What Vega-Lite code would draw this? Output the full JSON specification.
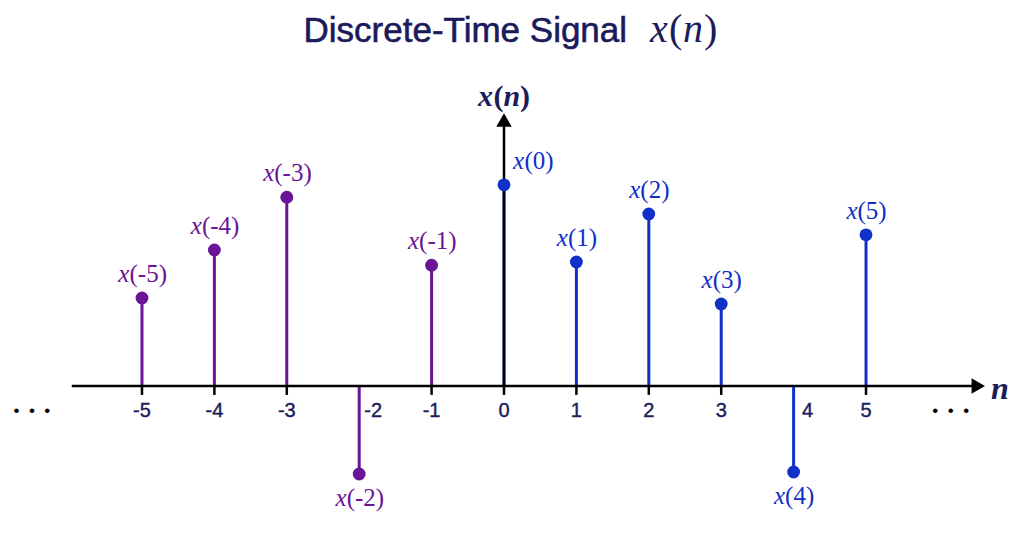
{
  "$schema": "https://vega.github.io/schema/vega-lite/v6.json",
  "width": 1024,
  "height": 554,
  "autosize": {"type": "fit", "contains": "padding"},
  "padding": 0,
  "background": "white",
  "config": {"view": {"stroke": null}},
  "data": {
    "values": [
      {"n": -5, "v": 2.2, "arg": "(-5)"},
      {"n": -4, "v": 3.4, "arg": "(-4)"},
      {"n": -3, "v": 4.72, "arg": "(-3)"},
      {"n": -2, "v": -2.2, "arg": "(-2)"},
      {"n": -1, "v": 3.02, "arg": "(-1)"},
      {"n": 0, "v": 5.03, "arg": "(0)"},
      {"n": 1, "v": 3.1, "arg": "(1)"},
      {"n": 2, "v": 4.3, "arg": "(2)"},
      {"n": 3, "v": 2.05, "arg": "(3)"},
      {"n": 4, "v": -2.15, "arg": "(4)"},
      {"n": 5, "v": 3.78, "arg": "(5)"}
    ]
  },
  "layer": [
    {
      "mark": {"type": "rule", "strokeWidth": 3},
      "encoding": {
        "x": {"field": "n", "type": "quantitative", "scale": {"domain": [-6.961, 7.182], "nice": false, "zero": false}, "axis": null},
        "y": {"field": "v", "type": "quantitative", "scale": {"domain": [-4.2, 9.65], "nice": false, "zero": false}, "axis": null},
        "y2": {"datum": 0},
        "color": {"condition": {"test": "datum.n < 0", "value": "#6a1497"}, "value": "#1030c8"}
      }
    },
    {
      "data": {"values": [{}]},
      "mark": {"type": "rule", "color": "black", "strokeWidth": 2.5},
      "encoding": {
        "x": {"datum": -5.97, "type": "quantitative"},
        "x2": {"datum": 6.5},
        "y": {"datum": 0, "type": "quantitative"}
      }
    },
    {
      "data": {"values": [{}]},
      "mark": {"type": "rule", "color": "black", "strokeWidth": 2.5},
      "encoding": {
        "x": {"datum": 0, "type": "quantitative"},
        "y": {"datum": 6.5, "type": "quantitative"},
        "y2": {"datum": 0}
      }
    },
    {
      "data": {"values": [{}]},
      "mark": {"type": "point", "shape": "triangle-right", "filled": true, "color": "black", "opacity": 1, "size": 240},
      "encoding": {
        "x": {"datum": 6.55, "type": "quantitative"},
        "y": {"datum": 0, "type": "quantitative"}
      }
    },
    {
      "data": {"values": [{}]},
      "mark": {"type": "point", "shape": "triangle-up", "filled": true, "color": "black", "opacity": 1, "size": 240},
      "encoding": {
        "x": {"datum": 0, "type": "quantitative"},
        "y": {"datum": 6.65, "type": "quantitative"}
      }
    },
    {
      "transform": [{"filter": "datum.v > 0"}],
      "mark": {"type": "tick", "orient": "vertical", "color": "black", "size": 9, "thickness": 2.5, "opacity": 1},
      "encoding": {
        "x": {"field": "n", "type": "quantitative"},
        "y": {"datum": -0.11, "type": "quantitative"}
      }
    },
    {
      "mark": {"type": "point", "filled": true, "opacity": 1, "size": 165},
      "encoding": {
        "x": {"field": "n", "type": "quantitative"},
        "y": {"field": "v", "type": "quantitative"},
        "color": {"condition": {"test": "datum.n < 0", "value": "#6a1497"}, "value": "#1030c8"}
      }
    },
    {
      "transform": [{"filter": "datum.n < 0 && datum.v > 0"}],
      "mark": {"type": "text", "font": "Liberation Serif", "fontStyle": "italic", "fontSize": 25, "baseline": "alphabetic", "align": "right", "dx": -12.5, "dy": -16, "color": "#6a1497", "text": "x"},
      "encoding": {
        "x": {"field": "n", "type": "quantitative"},
        "y": {"field": "v", "type": "quantitative"}
      }
    },
    {
      "transform": [{"filter": "datum.n < 0 && datum.v > 0"}],
      "mark": {"type": "text", "font": "Liberation Serif", "fontSize": 25, "baseline": "alphabetic", "align": "left", "dx": -12.5, "dy": -16, "color": "#6a1497"},
      "encoding": {
        "x": {"field": "n", "type": "quantitative"},
        "y": {"field": "v", "type": "quantitative"},
        "text": {"field": "arg", "type": "nominal"}
      }
    },
    {
      "transform": [{"filter": "datum.n > 0 && datum.v > 0"}],
      "mark": {"type": "text", "font": "Liberation Serif", "fontStyle": "italic", "fontSize": 25, "baseline": "alphabetic", "align": "right", "dx": -8.5, "dy": -16, "color": "#1030c8", "text": "x"},
      "encoding": {
        "x": {"field": "n", "type": "quantitative"},
        "y": {"field": "v", "type": "quantitative"}
      }
    },
    {
      "transform": [{"filter": "datum.n > 0 && datum.v > 0"}],
      "mark": {"type": "text", "font": "Liberation Serif", "fontSize": 25, "baseline": "alphabetic", "align": "left", "dx": -8.5, "dy": -16, "color": "#1030c8"},
      "encoding": {
        "x": {"field": "n", "type": "quantitative"},
        "y": {"field": "v", "type": "quantitative"},
        "text": {"field": "arg", "type": "nominal"}
      }
    },
    {
      "transform": [{"filter": "datum.n == 0"}],
      "mark": {"type": "text", "font": "Liberation Serif", "fontStyle": "italic", "fontSize": 25, "baseline": "alphabetic", "align": "left", "dx": 9, "dy": -16, "color": "#1030c8", "text": "x"},
      "encoding": {
        "x": {"field": "n", "type": "quantitative"},
        "y": {"field": "v", "type": "quantitative"}
      }
    },
    {
      "transform": [{"filter": "datum.n == 0"}],
      "mark": {"type": "text", "font": "Liberation Serif", "fontSize": 25, "baseline": "alphabetic", "align": "left", "dx": 20.5, "dy": -16, "color": "#1030c8"},
      "encoding": {
        "x": {"field": "n", "type": "quantitative"},
        "y": {"field": "v", "type": "quantitative"},
        "text": {"field": "arg", "type": "nominal"}
      }
    },
    {
      "transform": [{"filter": "datum.n < 0 && datum.v < 0"}],
      "mark": {"type": "text", "font": "Liberation Serif", "fontStyle": "italic", "fontSize": 25, "baseline": "alphabetic", "align": "right", "dx": -12.5, "dy": 32, "color": "#6a1497", "text": "x"},
      "encoding": {
        "x": {"field": "n", "type": "quantitative"},
        "y": {"field": "v", "type": "quantitative"}
      }
    },
    {
      "transform": [{"filter": "datum.n < 0 && datum.v < 0"}],
      "mark": {"type": "text", "font": "Liberation Serif", "fontSize": 25, "baseline": "alphabetic", "align": "left", "dx": -12.5, "dy": 32, "color": "#6a1497"},
      "encoding": {
        "x": {"field": "n", "type": "quantitative"},
        "y": {"field": "v", "type": "quantitative"},
        "text": {"field": "arg", "type": "nominal"}
      }
    },
    {
      "transform": [{"filter": "datum.n > 0 && datum.v < 0"}],
      "mark": {"type": "text", "font": "Liberation Serif", "fontStyle": "italic", "fontSize": 25, "baseline": "alphabetic", "align": "right", "dx": -8.5, "dy": 32, "color": "#1030c8", "text": "x"},
      "encoding": {
        "x": {"field": "n", "type": "quantitative"},
        "y": {"field": "v", "type": "quantitative"}
      }
    },
    {
      "transform": [{"filter": "datum.n > 0 && datum.v < 0"}],
      "mark": {"type": "text", "font": "Liberation Serif", "fontSize": 25, "baseline": "alphabetic", "align": "left", "dx": -8.5, "dy": 32, "color": "#1030c8"},
      "encoding": {
        "x": {"field": "n", "type": "quantitative"},
        "y": {"field": "v", "type": "quantitative"},
        "text": {"field": "arg", "type": "nominal"}
      }
    },
    {
      "transform": [{"filter": "datum.v > 0"}],
      "mark": {"type": "text", "font": "Liberation Sans", "fontSize": 20, "baseline": "middle", "color": "#1a1d5c", "stroke": "#1a1d5c", "strokeWidth": 0.4},
      "encoding": {
        "x": {"field": "n", "type": "quantitative"},
        "y": {"datum": -0.63, "type": "quantitative"},
        "text": {"field": "n", "type": "nominal"}
      }
    },
    {
      "transform": [{"filter": "datum.v < 0"}],
      "mark": {"type": "text", "font": "Liberation Sans", "fontSize": 20, "baseline": "middle", "dx": 14, "color": "#1a1d5c", "stroke": "#1a1d5c", "strokeWidth": 0.4},
      "encoding": {
        "x": {"field": "n", "type": "quantitative"},
        "y": {"datum": -0.63, "type": "quantitative"},
        "text": {"field": "n", "type": "nominal"}
      }
    },
    {
      "data": {"values": [{}]},
      "mark": {"type": "text", "font": "Liberation Sans", "fontSize": 17, "baseline": "middle", "color": "black", "text": "•\u00a0\u00a0•\u00a0\u00a0•"},
      "encoding": {
        "x": {"datum": -6.52, "type": "quantitative"},
        "y": {"datum": -0.63, "type": "quantitative"}
      }
    },
    {
      "data": {"values": [{}]},
      "mark": {"type": "text", "font": "Liberation Sans", "fontSize": 17, "baseline": "middle", "color": "black", "text": "•\u00a0\u00a0•\u00a0\u00a0•"},
      "encoding": {
        "x": {"datum": 6.17, "type": "quantitative"},
        "y": {"datum": -0.63, "type": "quantitative"}
      }
    },
    {
      "data": {"values": [{}]},
      "mark": {"type": "text", "font": "Liberation Serif", "fontStyle": "italic", "fontWeight": "bold", "fontSize": 32, "baseline": "middle", "align": "center", "color": "#1a1d5c", "text": "n"},
      "encoding": {
        "x": {"datum": 6.85, "type": "quantitative"},
        "y": {"datum": -0.08, "type": "quantitative"}
      }
    },
    {
      "data": {"values": [{}]},
      "mark": {"type": "text", "font": "Liberation Serif", "fontStyle": "italic", "fontWeight": "bold", "fontSize": 30, "baseline": "alphabetic", "align": "left", "dx": -26, "color": "#1a1d5c", "text": "x"},
      "encoding": {
        "x": {"datum": 0, "type": "quantitative"},
        "y": {"datum": 7.0, "type": "quantitative"}
      }
    },
    {
      "data": {"values": [{}]},
      "mark": {"type": "text", "font": "Liberation Serif", "fontWeight": "bold", "fontSize": 30, "baseline": "alphabetic", "align": "left", "dx": -10.5, "color": "#1a1d5c", "text": "("},
      "encoding": {
        "x": {"datum": 0, "type": "quantitative"},
        "y": {"datum": 7.0, "type": "quantitative"}
      }
    },
    {
      "data": {"values": [{}]},
      "mark": {"type": "text", "font": "Liberation Serif", "fontStyle": "italic", "fontWeight": "bold", "fontSize": 30, "baseline": "alphabetic", "align": "left", "dx": -0.5, "color": "#1a1d5c", "text": "n"},
      "encoding": {
        "x": {"datum": 0, "type": "quantitative"},
        "y": {"datum": 7.0, "type": "quantitative"}
      }
    },
    {
      "data": {"values": [{}]},
      "mark": {"type": "text", "font": "Liberation Serif", "fontWeight": "bold", "fontSize": 30, "baseline": "alphabetic", "align": "left", "dx": 16, "color": "#1a1d5c", "text": ")"},
      "encoding": {
        "x": {"datum": 0, "type": "quantitative"},
        "y": {"datum": 7.0, "type": "quantitative"}
      }
    },
    {
      "data": {"values": [{}]},
      "mark": {"type": "text", "font": "Liberation Sans", "fontSize": 35, "baseline": "alphabetic", "align": "right", "color": "#1b1b5c", "stroke": "#1b1b5c", "strokeWidth": 0.6, "text": "Discrete-Time Signal"},
      "encoding": {
        "x": {"datum": 1.7, "type": "quantitative"},
        "y": {"datum": 8.6, "type": "quantitative"}
      }
    },
    {
      "data": {"values": [{}]},
      "mark": {"type": "text", "font": "Liberation Serif", "fontStyle": "italic", "fontSize": 40, "baseline": "alphabetic", "align": "left", "dx": -2, "color": "#1b1b5c", "text": "x"},
      "encoding": {
        "x": {"datum": 2.044, "type": "quantitative"},
        "y": {"datum": 8.6, "type": "quantitative"}
      }
    },
    {
      "data": {"values": [{}]},
      "mark": {"type": "text", "font": "Liberation Serif", "fontSize": 40, "baseline": "alphabetic", "align": "left", "dx": 17, "color": "#1b1b5c", "text": "("},
      "encoding": {
        "x": {"datum": 2.044, "type": "quantitative"},
        "y": {"datum": 8.6, "type": "quantitative"}
      }
    },
    {
      "data": {"values": [{}]},
      "mark": {"type": "text", "font": "Liberation Serif", "fontStyle": "italic", "fontSize": 40, "baseline": "alphabetic", "align": "left", "dx": 31, "color": "#1b1b5c", "text": "n"},
      "encoding": {
        "x": {"datum": 2.044, "type": "quantitative"},
        "y": {"datum": 8.6, "type": "quantitative"}
      }
    },
    {
      "data": {"values": [{}]},
      "mark": {"type": "text", "font": "Liberation Serif", "fontSize": 40, "baseline": "alphabetic", "align": "left", "dx": 52, "color": "#1b1b5c", "text": ")"},
      "encoding": {
        "x": {"datum": 2.044, "type": "quantitative"},
        "y": {"datum": 8.6, "type": "quantitative"}
      }
    }
  ]
}
